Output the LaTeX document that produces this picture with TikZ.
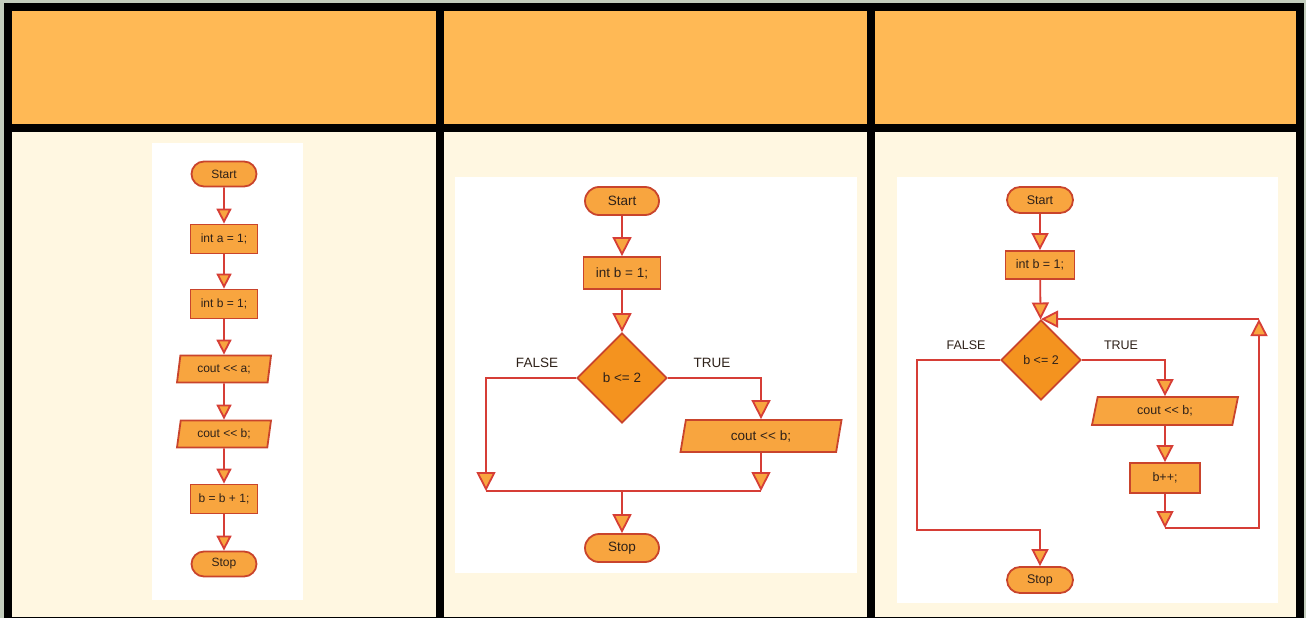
\documentclass[tikz,border=0pt]{standalone}
\usepackage{fontspec}
\setmainfont{Liberation Sans}[Ligatures=TeXOff]
\usetikzlibrary{arrows.meta, positioning, shapes.geometric, shapes.misc}
\definecolor{hdrfill}{HTML}{FFB955}
\definecolor{bodyfill}{HTML}{FFF7E1}
\definecolor{boxfill}{HTML}{F8A53F}
\definecolor{diafill}{HTML}{F4931F}
\definecolor{boxline}{HTML}{C9442C}
\definecolor{linered}{HTML}{D63E36}
\definecolor{txt}{HTML}{2E2119}
\definecolor{edgebg}{HTML}{C3CDBD}

\begin{document}
\begin{tikzpicture}[x=1pt, y=-1pt, on grid,
      every node/.style={text=txt},
      flow/.style={draw=boxline, fill=boxfill, line width=1.8pt, inner sep=0pt},
      term/.style={flow, rounded rectangle},
      proc/.style={flow, rectangle},
      dec/.style={flow, diamond, aspect=1, fill=diafill},
      io/.style={flow, trapezium, trapezium stretches body},
      conn/.style={color=linered, line width=1.8pt, -{Triangle[width=#1, length=#1, fill=boxfill]}},
      conn/.default=15pt]
  \useasboundingbox (0,0) rectangle (1306,618);
  % table
  \fill[edgebg] (0,0) rectangle (1306,618);
  \fill[hdrfill] (8,7.5) rectangle (1300,128);
  \fill[bodyfill] (8,128) rectangle (1300,621);
  \fill[white] (152,143) rectangle (303,600);
  \fill[white] (455,177) rectangle (857,573);
  \fill[white] (897,177) rectangle (1278,603);
  \draw[line width=8pt] (8,7.5) rectangle (1300,621);
  \draw[line width=8pt] (8,128) -- (1300,128) (440,7.5) -- (440,621) (871,7.5) -- (871,621);

  % first column: one step after the other
  \begin{scope}[font=\fontsize{12}{13}\selectfont, node distance=65pt,
      every trapezium node/.style={trapezium left angle=70, trapezium right angle=110}]
    \node[term, minimum width=65pt, minimum height=25pt] (start_1) at (224,174) {Start};
    \node[proc, minimum width=67pt, minimum height=29pt] (a_1) [below=of start_1] {int a = 1;};
    \node[proc, minimum width=67pt, minimum height=29pt] (b_1) [below=of a_1] {int b = 1;};
    \node[io, minimum width=94pt, minimum height=27pt] (outa_1) [below=of b_1] {cout << a;};
    \node[io, minimum width=94pt, minimum height=27pt] (outb_1) [below=of outa_1] {cout << b;};
    \node[proc, minimum width=67pt, minimum height=29pt] (inc_1) [below=of outb_1] {b = b + 1;};
    \node[term, minimum width=65pt, minimum height=25pt] (stop_1) [below=of inc_1] {Stop};
    \path[conn]
      (start_1) edge (a_1)
      (a_1) edge (b_1)
      (b_1) edge (outa_1)
      (outa_1) edge (outb_1)
      (outb_1) edge (inc_1)
      (inc_1) edge (stop_1);
  \end{scope}

  % second column: if
  \begin{scope}[font=\fontsize{13.5}{14}\selectfont,
      every trapezium node/.style={trapezium left angle=65, trapezium right angle=115}]
    \node[term, minimum width=74pt, minimum height=28pt] (start_2) at (622,201) {Start};
    \node[proc, minimum width=77pt, minimum height=32pt] (b_2) at (622,273) {int b = 1;};
    \node[dec, minimum size=90pt] (test_2) at (622,378) {b <= 2};
    \node[io, minimum width=161pt, minimum height=32pt] (out_2) at (761,436) {cout << b;};
    \node[term, minimum width=74pt, minimum height=28pt] (stop_2) at (622,548) {Stop};
    \node (false_2) at (537,363) {FALSE};
    \node (true_2) at (712,363) {TRUE};
    \coordinate (left_2) at (486,491);
    \coordinate (join_2) at (622,491);
    \coordinate (right_2) at (761,491);
    \path[conn=19pt]
      (start_2) edge (b_2)
      (b_2) edge (test_2)
      (out_2) edge (right_2)
      (join_2) edge (stop_2);
    \draw[conn=19pt] (test_2.west) -| (left_2);
    \draw[conn=19pt] (test_2.east) -| (out_2.north);
    \draw[linered, line width=1.8pt] (left_2) -- (right_2);
  \end{scope}

  % third column: while loop
  \begin{scope}[font=\fontsize{12.5}{13}\selectfont,
      every trapezium node/.style={trapezium left angle=62, trapezium right angle=118}]
    \node[term, minimum width=66pt, minimum height=26pt] (start_3) at (1040,200) {Start};
    \node[proc, minimum width=69pt, minimum height=28pt] (b_3) at (1040,265) {int b = 1;};
    \node[dec, minimum size=80pt] (test_3) at (1041,360) {b <= 2};
    \node[io, minimum width=146pt, minimum height=28pt] (out_3) at (1165,411) {cout << b;};
    \node[proc, minimum width=70pt, minimum height=30pt] (inc_3) at (1165,478) {b++;};
    \node[term, minimum width=66pt, minimum height=26pt] (stop_3) at (1040,580) {Stop};
    \node (false_3) at (966,345) {FALSE};
    \node (true_3) at (1121,345) {TRUE};
    \coordinate (back_3) at (1165,528);
    \coordinate (corner_3) at (1259,528);
    \coordinate (top_3) at (test_3.north -| corner_3);
    \coordinate (exit_3) at (917,530);
    \path[conn=17pt]
      (start_3) edge (b_3)
      (b_3) edge (test_3)
      (out_3) edge (inc_3)
      (inc_3) edge (back_3)
      (top_3) edge (test_3.north);
    \draw[conn=17pt] (back_3) -- (corner_3) -- (top_3);
    \draw[conn=17pt] (test_3.east) -| (out_3.north);
    \draw[conn=17pt] (test_3.west) -| (exit_3) -| (stop_3.north);
  \end{scope}
\end{tikzpicture}
\end{document}
